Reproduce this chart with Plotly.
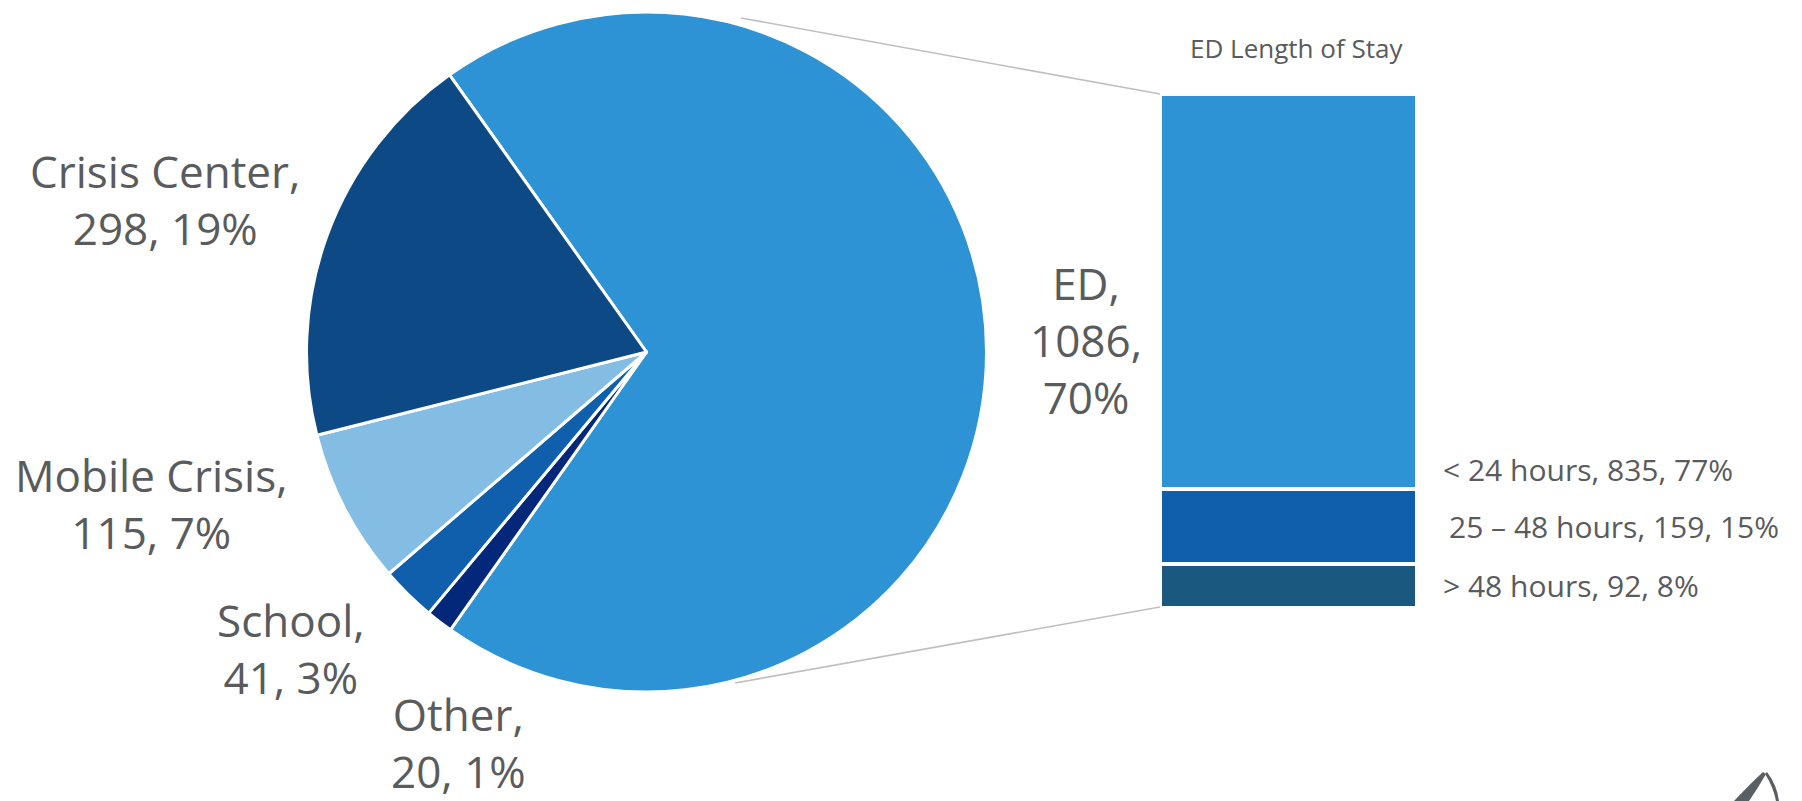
import plotly.graph_objects as go

# Referral source breakdown (pie) and ED length of stay (stacked bar)
sources = ["ED", "Other", "School", "Mobile Crisis", "Crisis Center"]
source_counts = [1086, 20, 41, 115, 298]
source_colors = ["#2E93D5", "#03287A", "#0F5FAD", "#83BDE4", "#0D4A85"]

stay_labels = ["< 24 hours", "25 \u2013 48 hours", "> 48 hours"]
stay_counts = [835, 159, 92]
stay_colors = ["#2E93D5", "#0F5FAD", "#1B5880"]

W, H = 1802, 801
TEXT = "#595B5C"
FONT = "Open Sans, Noto Sans, sans-serif"


def px(x):
    return x / W


def py(y):
    return 1 - y / H


total = sum(source_counts)
ed_total = stay_counts[0] + stay_counts[1] + stay_counts[2]

fig = go.Figure()

# Pie: centre (646.5, 352), radius 340 px
cx, cy, r = 646.5, 352, 340
fig.add_trace(go.Pie(
    labels=sources,
    values=source_counts,
    sort=False,
    direction="clockwise",
    rotation=-35.4,
    marker=dict(colors=source_colors, line=dict(color="white", width=3)),
    textinfo="none",
    hoverinfo="label+value+percent",
    showlegend=False,
    domain=dict(x=[px(cx - r), px(cx + r)], y=[py(cy + r), py(cy - r)]),
))

# Stacked bar, bottom segment first
for lab, val, col in reversed(list(zip(stay_labels, stay_counts, stay_colors))):
    fig.add_trace(go.Bar(
        x=[0], y=[val], name=lab,
        marker=dict(color=col, line=dict(color="white", width=4.4)),
        showlegend=False, xaxis="x", yaxis="y",
    ))

bar_x0, bar_x1 = 1160, 1417
bar_top, bar_bot = 94, 608
fig.update_layout(
    width=W, height=H,
    margin=dict(l=0, r=0, t=0, b=0),
    paper_bgcolor="white", plot_bgcolor="rgba(0,0,0,0)",
    barmode="stack", bargap=0,
    xaxis=dict(domain=[px(bar_x0), px(bar_x1)], range=[-0.5, 0.5], visible=False, fixedrange=True),
    yaxis=dict(domain=[py(bar_bot), py(bar_top)], range=[0, ed_total], visible=False, fixedrange=True),
    font=dict(family=FONT, color=TEXT),
)

# Connector lines from the ED slice to the bar
shapes = [
    dict(type="line", xref="paper", yref="paper", x0=px(741), y0=py(18), x1=px(1160), y1=py(94),
         line=dict(color="#BFBFBF", width=1.6)),
    dict(type="line", xref="paper", yref="paper", x0=px(735), y0=py(683), x1=px(1160), y1=py(607),
         line=dict(color="#BFBFBF", width=1.6)),
    # corner mark
    dict(type="path", xref="paper", yref="paper",
         path=(f"M {px(1734)} {py(801)} Q {px(1752)} {py(782)} {px(1763)} {py(772)} "
               f"L {px(1766)} {py(774)} Q {px(1758)} {py(788)} {px(1749)} {py(801)} Z"),
         fillcolor="#5A5F63", line=dict(width=0)),
    dict(type="path", xref="paper", yref="paper",
         path=(f"M {px(1767)} {py(772)} Q {px(1777)} {py(785)} {px(1779)} {py(801)} "
               f"L {px(1776)} {py(801)} Q {px(1773)} {py(786)} {px(1765)} {py(774)} Z"),
         fillcolor="#5A5F63", line=dict(width=0)),
]
fig.update_layout(shapes=shapes)

ann = []


def label(text, x, y, size, xanchor="center", align="center"):
    ann.append(dict(text=text, x=px(x), y=py(y), xref="paper", yref="paper",
                    showarrow=False, xanchor=xanchor, yanchor="middle", align=align,
                    borderpad=0,
                    font=dict(size=size, color=TEXT, family=FONT)))


def pct(v, t):
    return f"{round(100 * v / t)}%"


pie_pos = {
    "ED": (1086, 340),
    "Crisis Center": (165, 200),
    "Mobile Crisis": (151, 503),
    "School": (291, 648),
    "Other": (458, 742),
}
for name, val in zip(sources, source_counts):
    x, y = pie_pos[name]
    if name == "ED":
        txt = f"{name},<br>{val},<br>{pct(val, total)}"
    else:
        txt = f"{name},<br>{val}, {pct(val, total)}"
    label(txt, x, y, 44)

label("ED Length of Stay", 1296, 48, 26)

stay_pos = [(1442, 469), (1448, 526), (1442, 585)]
for (x, y), lab, val in zip(stay_pos, stay_labels, stay_counts):
    label(f"{lab}, {val}, {pct(val, ed_total)}", x, y, 30, xanchor="left", align="left")

fig.update_layout(annotations=ann)

fig.write_html("out.html")
